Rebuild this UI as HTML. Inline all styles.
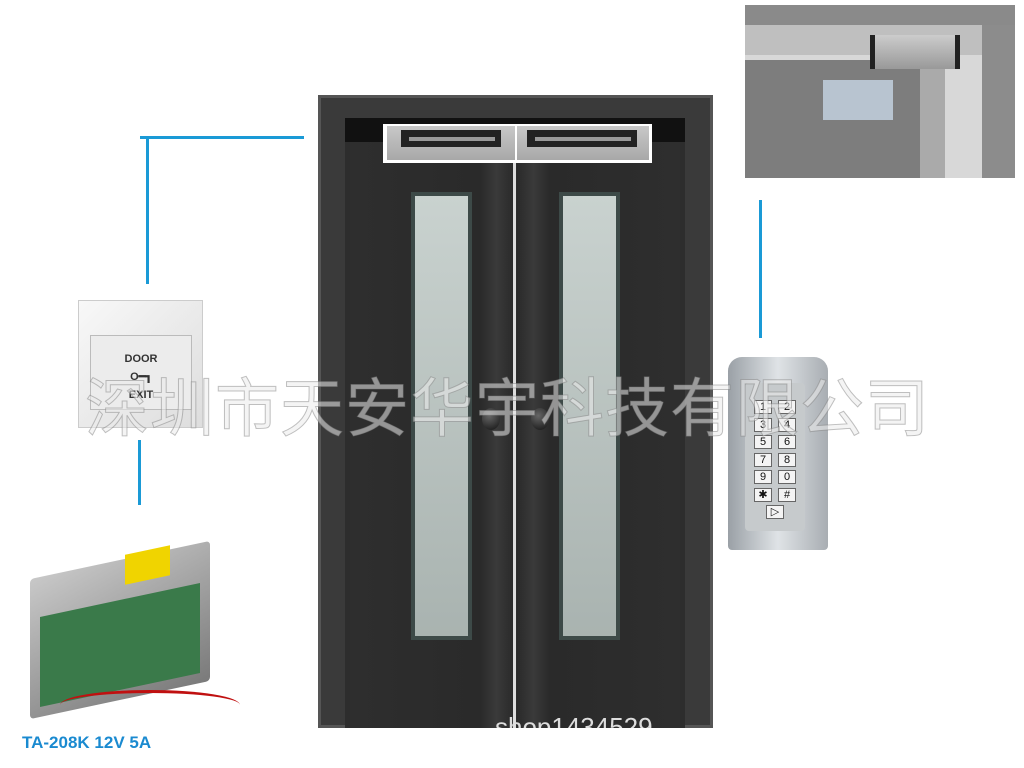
<!DOCTYPE html>
<html><head><meta charset="utf-8"><style>
body{margin:0;width:1024px;height:768px;background:#fff;position:relative;overflow:hidden;font-family:"Liberation Sans",sans-serif}
div{position:absolute;box-sizing:border-box}
.b{background:#1a9ad6}
.k{width:18px;height:14px;background:#f4f4f4;border:1px solid #666;font:11px 'Liberation Sans',sans-serif;color:#111;text-align:center;line-height:12px}
</style></head><body>
<div class="b" style="left:140px;top:136px;width:164px;height:3px"></div>
<div class="b" style="left:146px;top:136px;width:3px;height:148px"></div>
<div class="b" style="left:138px;top:440px;width:3px;height:65px"></div>
<div class="b" style="left:759px;top:200px;width:3px;height:138px"></div>

<div style="left:318px;top:95px;width:395px;height:633px;background:#3a3a3a;border:3px solid #555"></div>
<div style="left:345px;top:118px;width:340px;height:610px;background:#2d2d2d"></div>
<div style="left:345px;top:118px;width:340px;height:24px;background:#111"></div>
<div style="left:350px;top:142px;width:163px;height:586px;background:linear-gradient(90deg,#2e2e2e 0,#2a2a2a 80%,#3a3a3a 90%,#2a2a2a 100%)"></div>
<div style="left:517px;top:142px;width:163px;height:586px;background:linear-gradient(90deg,#2a2a2a 0,#3a3a3a 10%,#2a2a2a 20%,#2e2e2e 100%)"></div>
<div style="left:513px;top:160px;width:3px;height:568px;background:#ddd"></div>
<div style="left:411px;top:192px;width:61px;height:448px;background:#3d4a48"><div style="left:4px;top:4px;right:4px;bottom:4px;background:linear-gradient(#c9d2cf,#a9b3b0)"></div></div>
<div style="left:559px;top:192px;width:61px;height:448px;background:#3d4a48"><div style="left:4px;top:4px;right:4px;bottom:4px;background:linear-gradient(#c9d2cf,#a9b3b0)"></div></div>
<div style="left:482px;top:408px;width:18px;height:22px;border-radius:50%;background:radial-gradient(circle at 40% 35%,#666,#111)"></div>
<div style="left:531px;top:408px;width:18px;height:22px;border-radius:50%;background:radial-gradient(circle at 40% 35%,#666,#111)"></div>
<div style="left:383px;top:124px;width:269px;height:39px;background:#fff"></div>
<div style="left:387px;top:126px;width:128px;height:34px;background:linear-gradient(#c8c8c8,#a8a8a8)"><div style="left:14px;top:4px;width:100px;height:17px;background:#222"><div style="left:8px;top:7px;width:86px;height:4px;background:#999"></div></div></div>
<div style="left:517px;top:126px;width:132px;height:34px;background:linear-gradient(#c8c8c8,#a8a8a8)"><div style="left:10px;top:4px;width:110px;height:17px;background:#222"><div style="left:8px;top:7px;width:96px;height:4px;background:#999"></div></div></div>
<div style="left:495px;top:712px;width:220px;height:16px;color:#ddd;font-size:26px;overflow:hidden;line-height:30px">shop1434529</div>

<div style="left:745px;top:5px;width:270px;height:173px;background:#d8d8d8;overflow:hidden">
<div style="left:0;top:0;width:270px;height:20px;background:#8a8a8a"></div>
<div style="left:0;top:20px;width:270px;height:30px;background:#bfbfbf"></div>
<div style="left:0;top:55px;width:175px;height:118px;background:#7d7d7d"></div>
<div style="left:175px;top:60px;width:25px;height:113px;background:#aaa"></div>
<div style="left:237px;top:20px;width:33px;height:153px;background:#8c8c8c"></div>
<div style="left:125px;top:30px;width:90px;height:34px;background:linear-gradient(#ccc,#999);border-left:5px solid #222;border-right:5px solid #222"></div>
<div style="left:78px;top:75px;width:70px;height:40px;background:#b8c4d0"></div>
</div>

<div style="left:78px;top:300px;width:125px;height:128px;background:linear-gradient(135deg,#f8f8f8,#ddd);border:1px solid #ccc"></div>
<div style="left:90px;top:335px;width:102px;height:75px;background:#ececec;border:1px solid #bbb;text-align:center;font:bold 11px 'Liberation Sans',sans-serif;color:#333;padding-top:14px;line-height:18px">DOOR<br>O━┓<br>EXIT</div>

<div style="left:728px;top:357px;width:100px;height:193px;background:linear-gradient(90deg,#9aa0a6,#dfe3e6,#a8adb2);border-radius:14px 14px 4px 4px"></div>
<div style="left:745px;top:383px;width:60px;height:148px;background:#c6cacc;border-radius:4px"></div>
<div class="k" style="left:754px;top:400px">1</div><div class="k" style="left:778px;top:400px">2</div>
<div class="k" style="left:754px;top:418px">3</div><div class="k" style="left:778px;top:418px">4</div>
<div class="k" style="left:754px;top:435px">5</div><div class="k" style="left:778px;top:435px">6</div>
<div class="k" style="left:754px;top:453px">7</div><div class="k" style="left:778px;top:453px">8</div>
<div class="k" style="left:754px;top:470px">9</div><div class="k" style="left:778px;top:470px">0</div>
<div class="k" style="left:754px;top:488px">✱</div><div class="k" style="left:778px;top:488px">#</div>
<div class="k" style="left:766px;top:505px">▷</div>

<div style="left:30px;top:560px;width:180px;height:140px;background:linear-gradient(160deg,#c8c8c8,#7a7a7a);transform:skewY(-12deg);border-radius:4px"></div>
<div style="left:40px;top:600px;width:160px;height:90px;background:#3a7a4a;transform:skewY(-12deg)"></div>
<div style="left:125px;top:550px;width:45px;height:30px;background:#f0d400;transform:skewY(-12deg)"></div>
<div style="left:60px;top:690px;width:180px;height:30px;border-top:3px solid #c01010;border-radius:50%"></div>
<div style="left:22px;top:733px;color:#1a8ad0;font:bold 17px 'Liberation Sans',sans-serif">TA-208K 12V 5A</div>

<div style="left:85px;top:358px;width:860px;font:64px 'Liberation Sans','Noto Sans CJK SC',sans-serif;color:rgba(235,235,235,0.55);-webkit-text-stroke:1px rgba(120,120,120,0.45);letter-spacing:1px;white-space:nowrap">深圳市天安华宇科技有限公司</div>
</body></html>
